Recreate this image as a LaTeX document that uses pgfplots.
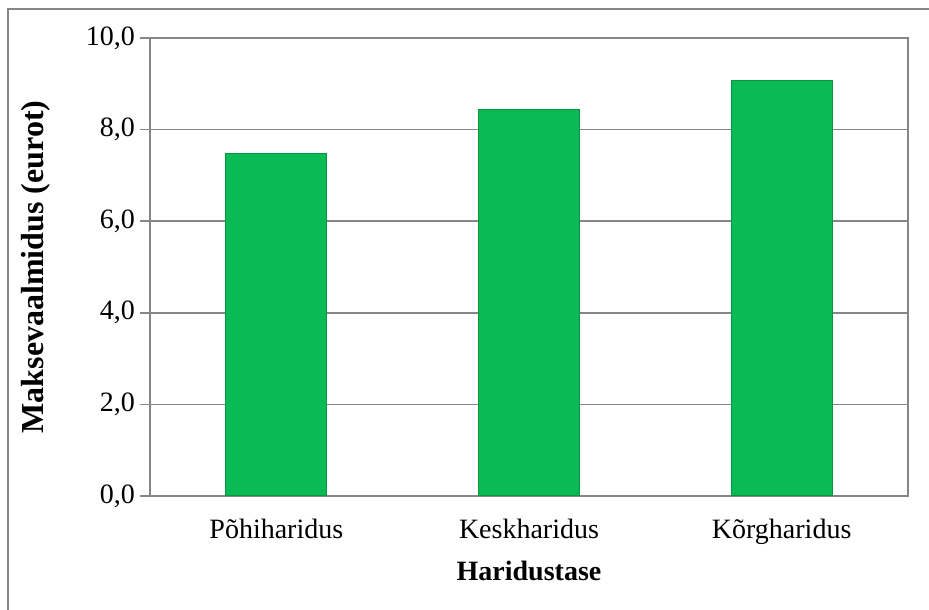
\documentclass[border=0pt]{standalone}
\usepackage{pgfplots}
\pgfplotsset{compat=1.18}
\usepackage{fontspec}
\setmainfont{Liberation Serif}
\definecolor{axgray}{RGB}{134,134,134}
\definecolor{bargreen}{RGB}{10,187,85}
\definecolor{bardark}{RGB}{6,150,66}
\begin{document}
\begin{tikzpicture}[x=1pt,y=1pt]
\useasboundingbox (0,0) rectangle (464.5,304.5);
\draw[axgray,line width=1.2pt] (4,-5) -- (4,300) -- (470,300);
\begin{axis}[
  at={(75pt,56.5pt)}, anchor=south west,
  scale only axis, width=379pt, height=229pt,
  xmin=-0.5, xmax=2.5, ymin=0, ymax=10,
  ytick={0,2,4,6,8,10},
  xtick={0,1,2},
  xticklabels={Põhiharidus,Keskharidus,Kõrgharidus},
  major x tick style={draw=none},
  extra x ticks={-0.5,0.5,1.5,2.5},
  extra x tick labels={},
  extra x tick style={major tick length=3.5pt, grid=none},
  tick align=outside,
  major tick length=5pt,
  tick style={axgray, line width=0.8pt},
  axis line style={axgray, line width=1pt},
  ymajorgrids, grid style={axgray, line width=0.8pt},
  xtick pos=bottom, ytick pos=left,
  tick label style={font=\fontsize{14}{16}\selectfont},
  yticklabel style={xshift=1pt, /pgf/number format/.cd, fixed, fixed zerofill, precision=1, use comma, assume math mode=true},
  xticklabel style={yshift=-3pt},
  xlabel={Haridustase},
  ylabel={Maksevaalmidus (eurot)},
  x label style={font=\fontsize{14}{16}\selectfont\bfseries, at={(axis description cs:0.5,-0.164)}, anchor=center},
  y label style={font=\fontsize{16}{18}\selectfont\bfseries, at={(axis description cs:-0.151,0.5)}, anchor=center},
]
\addplot[ybar, bar width=50.5pt, fill=bargreen, draw=bardark, line width=0.6pt]
  coordinates {(0,7.48) (1,8.43) (2,9.08)};
\end{axis}
\end{tikzpicture}
\end{document}
